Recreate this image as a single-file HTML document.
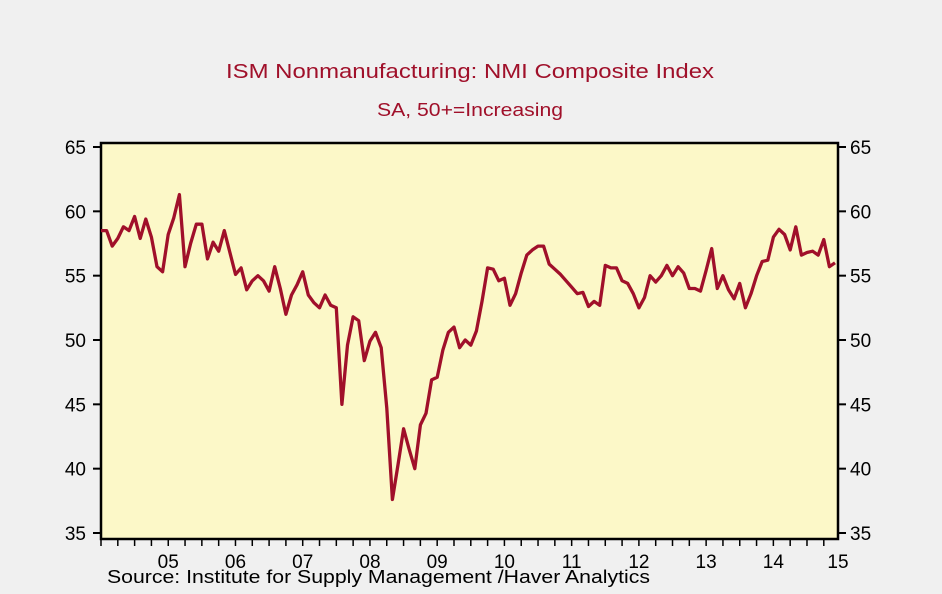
<!DOCTYPE html>
<html><head><meta charset="utf-8"><style>
html,body{margin:0;padding:0;background:#f0f0f0;}
svg{display:block;font-family:"Liberation Sans",Arial,sans-serif;}
</style></head><body>
<svg id="chart" width="942" height="594" viewBox="0 0 942 594">
<rect x="0" y="0" width="942" height="594" fill="#f0f0f0"/>
<text x="226" y="78" font-size="20" fill="#a0102a" textLength="488" lengthAdjust="spacingAndGlyphs">ISM Nonmanufacturing: NMI Composite Index</text>
<text x="377" y="116" font-size="18" fill="#a0102a" textLength="186" lengthAdjust="spacingAndGlyphs">SA, 50+=Increasing</text>
<rect x="101" y="143" width="737" height="396" fill="#fcf8c8" stroke="#000" stroke-width="2.5"/>
<g id="yaxes"></g>
<g id="xaxis"></g>
<path id="line" fill="none" stroke="#a0102a" stroke-width="3.3" stroke-linejoin="round"/>
<text x="107" y="583" font-size="18" fill="#000" textLength="543" lengthAdjust="spacingAndGlyphs">Source:  Institute for Supply Management /Haver Analytics</text>
</svg>
<script>
const startYear = 2004, startMonth = 6; // Jul 2004 (0-based month)
const values = [58.5,58.5,57.3,57.9,58.8,58.5,59.6,57.9,59.4,58.0,55.7,55.3,58.2,59.5,61.3,55.7,57.5,59.0,59.0,56.3,57.6,56.9,58.5,56.8,55.1,55.6,53.9,54.6,55.0,54.6,53.8,55.7,54.0,52.0,53.5,54.3,55.3,53.5,52.9,52.5,53.5,52.7,52.5,45.0,49.6,51.8,51.5,48.4,49.9,50.6,49.4,44.7,37.6,40.3,43.1,41.5,40.0,43.4,44.3,46.9,47.1,49.2,50.6,51.0,49.4,50.0,49.6,50.7,53.0,55.6,55.5,54.6,54.8,52.7,53.6,55.2,56.6,57.0,57.3,57.3,55.9,55.5,55.1,54.6,54.1,53.6,53.7,
52.6,53.0,52.7,55.8,55.6,55.6,54.6,54.4,53.6,52.5,53.3,55.0,54.5,55.0,55.8,55.0,55.7,55.2,54.0,54.0,53.8,55.4,57.1,54.0,55.0,53.9,53.2,54.4,52.5,53.6,55.0,56.1,56.2,58.0,58.6,58.2,57.0,58.8,56.6,56.8,56.9,56.6,57.8,55.7,56.0];
const yTicks = [35,40,45,50,55,60,65];
const xLabels = ["05","06","07","08","09","10","11","12","13","14","15"];
const NS="http://www.w3.org/2000/svg";
const L=101,R=838,T=143,B=539;
function y(v){return 533 - (v-35)*(533-147)/30;}
const tStart=startYear+startMonth/12;
const pxYear=(835-101)/((values.length-1)/12);
function x(t){return 101+(t-tStart)*pxYear;}
function mk(tag,attrs,parent){const e=document.createElementNS(NS,tag);for(const k in attrs)e.setAttribute(k,attrs[k]);parent.appendChild(e);return e;}
const ya=document.getElementById('yaxes');
yTicks.forEach(v=>{
  const yy=y(v);
  const t1=mk('line',{x1:93,x2:101,y1:yy,y2:yy,stroke:'#000','stroke-width':2},ya);
  
  
  const t2=mk('line',{x1:838,x2:846,y1:yy,y2:yy,stroke:'#000','stroke-width':2},ya);
  
  
  const l1=mk('text',{x:86,y:yy+7,'text-anchor':'end','font-size':19},ya);
  l1.textContent=v;
  
  
  const l2=mk('text',{x:850,y:yy+7,'font-size':19},ya);
  l2.textContent=v;
  
  
});
const xa=document.getElementById('xaxis');
for(let q=0;;q++){
  const t=tStart+q*0.25; const xx=x(t);
  if(xx>R+1)break;
  const tk=mk('line',{x1:xx,x2:xx,y1:539,y2:546,stroke:'#000','stroke-width':1.5},xa);
  
  
}
xLabels.forEach((s,i)=>{
  let xx=x(2005+i+0.5); if(xx>R)xx=R;
  const lb=mk('text',{x:xx,y:568,'text-anchor':'middle','font-size':19},xa);
  lb.textContent=s;
  
  
});
let d='';
values.forEach((v,i)=>{d+=(i?'L':'M')+x(tStart+i/12).toFixed(1)+' '+y(v).toFixed(1);});
document.getElementById('line').setAttribute('d',d);
</script>
</body></html>
